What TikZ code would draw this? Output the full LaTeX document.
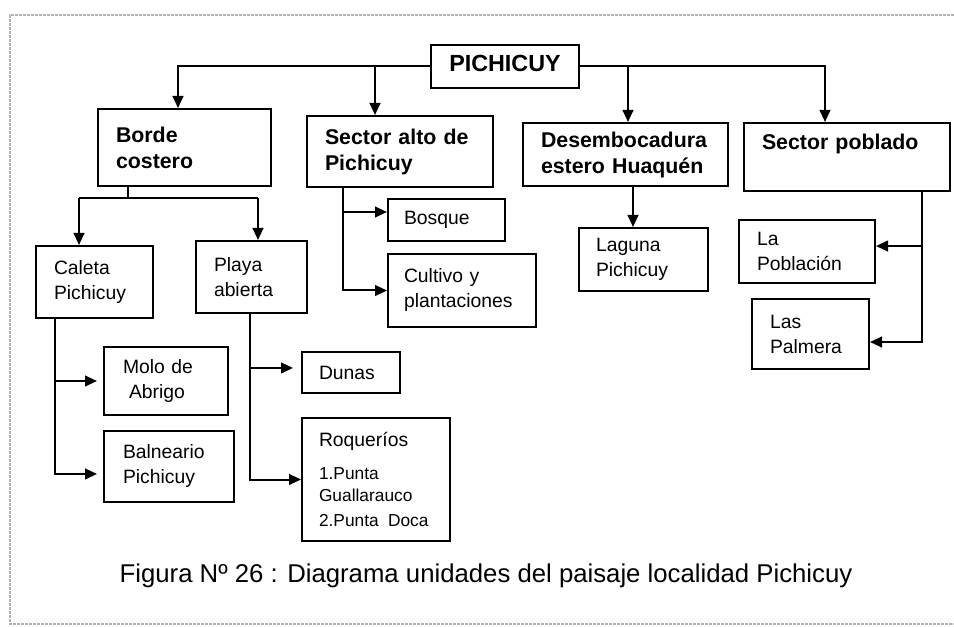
\documentclass[tikz,border=0pt]{standalone}
\usepackage{fontspec}
\setmainfont{Liberation Sans}
\usetikzlibrary{arrows.meta}

\begin{document}
\begin{tikzpicture}[x=0.75pt, y=-0.75pt,
    unit/.style={draw, line width=1.5pt, anchor=north west, align=left, inner xsep=13.5pt, inner ysep=0pt, font=\fontsize{14.5}{18.75}\selectfont},
    head/.style={unit, font=\fontsize{16}{19.5}\selectfont\bfseries},
    link/.style={line width=1.5pt, -{Triangle[length=9pt, width=8pt]}},
    wire/.style={line width=1.5pt}]
    \useasboundingbox (0,0) rectangle (954,627);
    \draw[gray!60, line width=2pt, densely dotted] (954,15) -- (10,15) -- (10,624) -- (954,624);

    \node[draw, line width=1.5pt, anchor=north west, minimum width=111pt, minimum height=32.25pt, inner sep=0pt, text depth=4pt, font=\fontsize{17.5}{21}\selectfont\bfseries] (pich) at (430,44) {PICHICUY};

    \node[head, text width=102.75pt, minimum height=57.75pt] (borde) at (97,108) {Borde\\costero};
    \node[head, text width=112.5pt, minimum height=53.25pt] (alto) at (306,115) {Sector alto de\\Pichicuy};
    \node[head, text width=126.75pt, minimum height=47.25pt] (deso) at (522,122) {Desembocadura\\estero Huaquén};
    \node[head, text width=127.5pt, minimum height=51pt, inner ysep=8.25pt, text depth=23pt] (pobl) at (743,122) {Sector poblado};

    \node[unit, text width=60.75pt, minimum height=54pt] (caleta) at (35,245) {Caleta\\Pichicuy};
    \node[unit, text width=56.25pt, minimum height=54pt] (playa) at (195,240) {Playa\\abierta};
    \node[unit, inner xsep=12pt, text width=63.75pt, minimum height=31.5pt] (bosque) at (387,198) {Bosque};
    \node[unit, inner xsep=12pt, text width=87pt, minimum height=54.75pt] (cult) at (387,253) {Cultivo y\\plantaciones};
    \node[unit, inner xsep=12.75pt, text width=71.25pt, minimum height=47.25pt] (lag) at (578,227) {Laguna\\Pichicuy};
    \node[unit, text width=75pt, minimum height=47.25pt] (pobla) at (738,219) {La\\Población};
    \node[unit, text width=60.75pt, minimum height=52.5pt] (palm) at (751,298) {Las\\Palmera};

    \node[unit, inner xsep=14.25pt, text width=64.5pt, minimum height=51pt] (molo) at (103,346) {Molo de\\\hspace*{4.5pt}Abrigo};
    \node[unit, inner xsep=14.25pt, text width=69pt, minimum height=53.25pt] (balne) at (103,430) {Balneario\\Pichicuy};
    \node[unit, inner xsep=12.75pt, text width=48pt, minimum height=30.75pt] (dunas) at (301,351) {Dunas};
    \node[unit, inner xsep=12.75pt, text width=85.5pt, minimum height=92.25pt] (roq) at (301,417) {Roqueríos\\[8pt]\fontsize{13}{16.5}\selectfont 1.Punta\\Guallarauco\\2.Punta\hspace{7pt}Doca};

    \node[anchor=base, inner sep=0pt, font=\fontsize{19.3}{23}\selectfont] (caption) at (486,582) {Figura Nº 26 : Diagrama unidades del paisaje localidad Pichicuy};

    \coordinate (cb) at (178,0);
    \coordinate (ca) at (375,0);
    \coordinate (cd) at (628,0);
    \coordinate (cp) at (825,0);
    \coordinate (kb) at (128,198);
    \coordinate (cc) at (79,0);
    \coordinate (cy) at (258,0);
    \coordinate (kc) at (55,0);
    \coordinate (ky) at (250,0);
    \coordinate (ka) at (343,0);
    \coordinate (kl) at (633,0);
    \coordinate (kp) at (922,0);
    \coordinate (bn) at ([yshift=-5.6pt]balne.west);
    \coordinate (dn) at ([yshift=3.4pt]dunas.west);
    \coordinate (bq) at ([yshift=6pt]bosque.west);
    \coordinate (pb) at ([yshift=4.1pt]pobla.east);
    \coordinate (pm) at ([yshift=-6pt]palm.east);

    \draw[link] (pich.west) -| (cb |- borde.north);
    \draw[link] (ca |- pich.west) -- (ca |- alto.north);
    \draw[link] (pich.east) -| (cp |- pobl.north);
    \draw[link] (cd |- pich.east) -- (cd |- deso.north);

    \draw[wire] (kb |- borde.south) -- (kb) (cc |- kb) -- (cy |- kb);
    \draw[link] (cc |- kb) -- (cc |- caleta.north);
    \draw[link] (cy |- kb) -- (cy |- playa.north);

    \draw[link, shorten >=4.5pt] (kc |- caleta.south) |- (bn);
    \draw[link, shorten >=4.5pt] (kc |- molo.west) -- (molo.west);
    \draw[link] (ky |- playa.south) |- (roq.west);
    \draw[link, shorten >=6pt] (ky |- dn) -- (dn);
    \draw[link] (ka |- alto.south) |- (cult.west);
    \draw[link] (ka |- bq) -- (bq);
    \draw[link] (kl |- deso.south) -- (kl |- lag.north);
    \draw[link] (kp |- pobl.south) |- (pm);
    \draw[link] (kp |- pb) -- (pb);
\end{tikzpicture}
\end{document}
